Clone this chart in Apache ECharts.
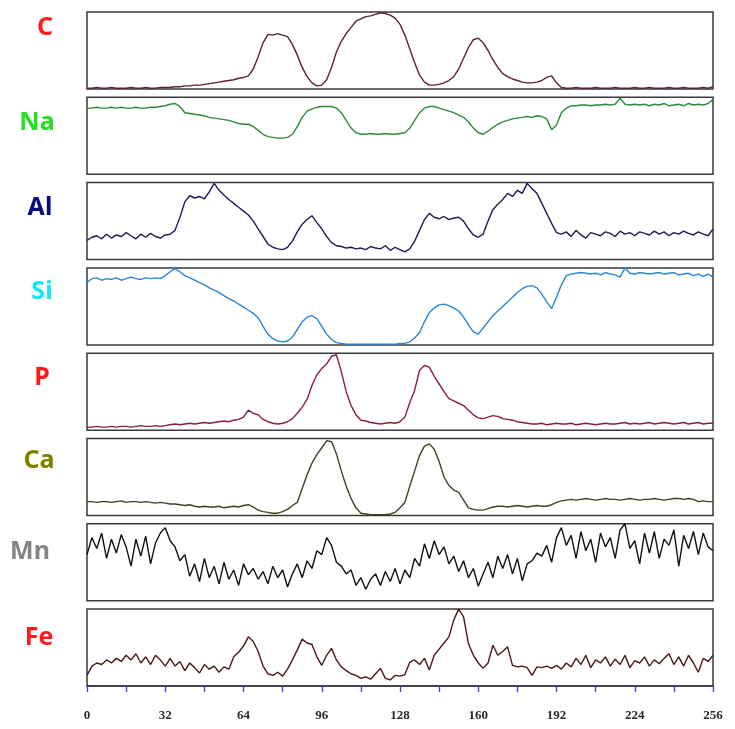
<!DOCTYPE html>
<html>
<head>
<meta charset="utf-8">
<script src="https://cdn.jsdelivr.net/npm/echarts@6/dist/echarts.min.js"></script>
<style>html,body{margin:0;padding:0;background:#fff;}#c{width:735px;height:729px;}</style>
</head>
<body>
<div id="c"></div>
<script>
// Scan positions (0..256, step 2)
const positions = Array.from({length: 129}, (_, i) => i * 2);
const xTicks = [0, 32, 64, 96, 128, 160, 192, 224, 256];
const elements = ['C', 'Na', 'Al', 'Si', 'P', 'Ca', 'Mn', 'Fe'];

const C = [1,1,2,1,1,2,1,1,1,2,1,1,2,1,1,2,2,2,
  3,3,4,4,5,5,6,7,8,9,10,11,12,14,15,17,
  26,42,60,71,70,72,70,68,58,44,28,16,8,4,
  5,12,28,48,62,72,80,88,91,94,95,97,99,98,96,92,
  84,70,52,34,18,9,5,5,6,8,11,16,26,40,54,64,
  66,60,50,38,28,20,16,13,11,9,8,8,9,11,15,17,
  8,2,1,1,2,1,1,1,2,1,1,1,2,1,1,1,2,1,1,2,1,1,1,2,1,1,2,1,1,1,2,1,3];
const Na = [86,86,87,86,86,87,86,87,86,86,87,86,86,87,87,88,89,
  91,92,88,80,79,78,77,76,74,73,72,71,70,68,66,65,65,
  62,57,52,49,48,47,47,48,52,62,74,82,85,87,88,88,
  88,86,80,70,60,54,52,52,53,52,52,53,52,52,53,54,
  60,70,80,86,88,88,86,84,82,80,77,74,68,60,54,52,
  56,61,65,68,70,72,73,74,75,74,76,75,72,58,64,80,
  86,89,89,90,90,89,90,90,91,90,91,99,91,90,91,90,91,89,91,90,92,89,90,91,89,92,90,91,90,92,97];
const Al = [25,29,31,27,33,28,32,30,35,31,27,33,29,34,30,28,32,33,
  38,55,75,83,80,82,79,88,99,90,84,78,73,68,63,58,
  50,40,30,20,16,14,13,16,24,36,46,52,57,48,40,30,
  22,18,17,15,16,14,15,13,17,15,14,18,12,16,13,10,
  14,24,38,52,60,55,53,56,52,54,55,50,40,32,29,33,
  50,65,72,78,86,82,90,86,99,92,86,73,60,47,35,33,
  36,30,38,32,28,35,33,31,36,34,30,37,33,35,31,36,34,32,37,33,36,31,35,33,37,34,32,36,33,31,40];
const Si = [81,86,87,84,86,85,87,84,86,88,86,85,87,86,87,86,90,95,
  99,95,90,87,84,81,78,74,71,68,64,60,57,53,49,45,
  41,35,24,14,8,5,4,5,10,20,30,36,38,34,24,14,
  7,3,2,1,1,1,1,1,1,1,1,1,1,1,2,2,
  4,9,16,30,42,48,52,53,51,48,44,36,26,17,14,22,
  30,38,44,50,56,62,68,73,76,77,74,66,56,47,62,78,
  90,92,93,94,93,92,93,91,94,92,91,88,100,93,92,94,93,92,93,94,92,93,94,91,92,93,90,92,89,92,88];
const P = [4,4,5,4,4,5,4,5,5,4,5,6,5,5,6,5,6,7,
  8,7,8,9,8,9,10,9,10,11,12,11,13,14,17,26,
  22,20,14,11,9,8,9,11,15,22,30,40,58,72,80,86,
  96,98,76,50,32,20,13,12,10,9,8,9,10,9,11,17,
  36,52,78,84,82,70,60,50,41,38,35,32,26,20,16,15,
  17,19,18,15,14,13,11,10,9,8,8,9,7,8,9,8,
  8,9,7,8,9,8,7,8,9,8,8,9,10,8,9,8,9,10,8,9,10,9,8,9,10,8,9,10,8,9,9];
const Ca = [18,18,17,18,18,17,18,19,17,18,18,17,18,17,16,17,16,15,
  15,14,13,14,12,11,12,11,11,12,10,11,12,11,13,14,
  11,7,5,4,3,3,5,8,13,17,35,53,68,79,88,97,
  96,80,58,38,22,10,3,2,1,1,1,1,2,4,10,17,
  38,58,78,90,93,86,70,50,39,33,30,20,10,8,7,7,
  9,11,12,12,11,12,13,12,11,12,13,12,12,14,17,19,
  20,21,20,21,22,21,20,21,22,21,21,20,21,22,21,20,21,21,22,21,20,21,22,22,21,22,21,18,19,18,18];
const Mn = [60,82,68,88,55,80,62,86,70,45,80,58,84,48,75,88,95,78,
  70,52,60,32,48,25,55,30,45,22,50,28,40,20,48,34,
  42,28,38,22,45,30,40,18,35,48,30,52,42,65,60,82,
  72,50,45,35,40,20,30,15,28,35,20,38,25,42,22,40,
  30,55,45,74,55,78,60,70,48,58,38,52,30,42,19,35,
  50,30,58,42,60,35,55,26,48,52,62,58,72,50,82,95,
  72,85,55,90,65,80,50,88,70,82,55,92,100,68,78,48,88,62,90,55,80,72,92,45,85,68,90,60,88,70,65];
const Fe = [14,26,30,28,34,30,36,32,40,34,42,30,38,28,40,34,26,36,
  26,32,20,30,24,17,28,22,26,18,25,22,38,44,52,64,
  58,45,26,16,14,18,13,22,34,47,61,56,54,38,27,40,
  49,34,25,20,16,14,10,12,9,16,23,10,8,14,13,15,
  31,34,28,36,21,40,48,56,64,86,100,90,55,40,30,23,
  30,53,40,45,51,27,25,26,24,14,25,24,26,23,27,22,
  30,25,36,28,40,24,34,30,38,26,35,28,40,24,33,30,38,26,34,29,36,42,28,38,26,40,30,18,36,32,40];

const seriesValues = [C, Na, Al, Si, P, Ca, Mn, Fe];

// styling (kept apart from data)
const labelColors = ['#ff1a1a', '#22e022', '#0a0a80', '#12e8f5', '#ff1a1a', '#808000', '#858585', '#ff1a1a'];
const lineColors = ['#5c2232', '#2f8a3a', '#1c1c5c', '#2a86d6', '#8a2038', '#3a4520', '#111111', '#4a1818'];
const labelCenters = [45, 37, 40, 42, 42, 39, 30, 39];
const labelMid = [27.5, 122.5, 208, 292, 378, 460.5, 551.5, 637.5];

const grids = [], xAxes = [], yAxes = [], series = [], graphics = [];
elements.forEach((el, i) => {
  grids.push({left: 87, width: 626, top: 12 + i * 85.3, height: 77, show: true,
    borderColor: '#3a3a3a', borderWidth: 1.5, backgroundColor: '#fff'});
  const last = i === elements.length - 1;
  xAxes.push({type: 'value', gridIndex: i, min: 0, max: 256, interval: 16, show: last,
    axisLine: {show: true, lineStyle: {color: '#3a3a3a', width: 1.5}},
    axisTick: {show: true, length: 6, lineStyle: {color: '#3344cc', width: 1.3}},
    splitLine: {show: false},
    axisLabel: {margin: 23, fontFamily: 'Liberation Serif', fontSize: 13, fontWeight: 'bold', color: '#2a2a2a',
      formatter: v => xTicks.includes(v) ? String(v) : ''}});
  yAxes.push({type: 'value', gridIndex: i, min: 0, max: 100, show: false});
  series.push({type: 'line', xAxisIndex: i, yAxisIndex: i, showSymbol: false, silent: true,
    data: positions.map((x, k) => [x, seriesValues[i][k]]),
    lineStyle: {color: lineColors[i], width: 1.4}, animation: false});
  graphics.push({type: 'text', x: labelCenters[i], y: labelMid[i],
    style: {text: el, fill: labelColors[i], font: 'bold 25px "Noto Sans"', textAlign: 'center', textVerticalAlign: 'middle'}});
});

const chart = echarts.init(document.getElementById('c'));
chart.setOption({animation: false, backgroundColor: '#fff', grid: grids, xAxis: xAxes, yAxis: yAxes, series: series, graphic: graphics});
</script>
</body>
</html>
